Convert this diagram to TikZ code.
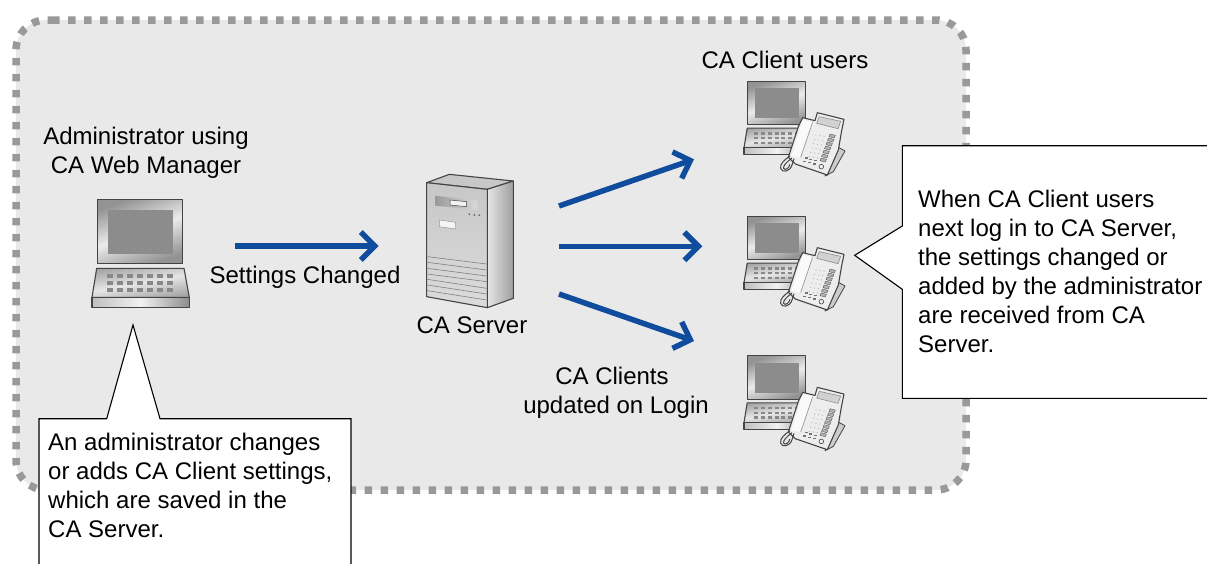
\documentclass[tikz,border=0pt]{standalone}
\usepackage{fontspec}
\setmainfont{Liberation Sans}
\usetikzlibrary{arrows.meta}
\definecolor{regionfill}{HTML}{E9E9E9}
\definecolor{dotgrey}{HTML}{999999}
\definecolor{flowblue}{HTML}{0F4C9E}
\definecolor{edgegrey}{HTML}{444444}
\definecolor{screengrey}{HTML}{8C8C8C}
\definecolor{keygrey}{HTML}{888888}
\tikzset{
  label text/.style={font=\fontsize{24}{29}\selectfont,inner sep=0pt,align=center,text=black},
  note text/.style={label text,align=left,anchor=north west},
  flow/.style={flowblue,line width=5.5pt,-{Straight Barb[length=14pt,width=28pt,line width=5.5pt]}},
  callout/.style={draw=black,line width=1.1pt,fill=white,line join=miter},
  kit/.style={draw=edgegrey,line width=1.1pt,line join=round},
  thinkit/.style={draw=edgegrey,line width=0.8pt,line join=round},
}
\newcommand{\drawlaptop}{%
  \shade[kit,left color=gray!85,right color=gray!85,middle color=white!92!black,shading angle=20] (5.7,0.3) rectangle (90.7,64.3);
  \fill[screengrey] (16,11) rectangle (81,54.7);
  \shade[kit,left color=gray!70,right color=gray!70,middle color=white!90!black,shading angle=10] (4.7,69.3) -- (92,69.3) -- (97.3,98.3) -- (0,98.3) -- cycle;
  \shade[kit,left color=white!75!black,right color=gray!90,middle color=white!95!black] (0,98.3) rectangle (97.3,108.3);
  \foreach \r in {0,1,2}{\foreach \c in {0,...,6}{
    \fill[keygrey] (15+\c*10,75.3+\r*7) rectangle ++(6,3.7);}}%
}
\newcommand{\drawphone}{%
  \filldraw[thinkit,fill=white!80!black] (325,232) -- (345,243) -- (310,305) -- (285,318) -- cycle;
  \filldraw[kit,fill=white!93!black] (262,128) -- (342,148) -- (335,182) -- (325,240) -- (292,315) -- (196,282) -- (175,262) -- (205,170) -- (218,143) -- (255,152) -- cycle;
  \filldraw[draw=white!55!black,line width=0.6pt,fill=white!82!black] (268,140) -- (332,154) -- (324,176) -- (260,160) -- cycle;
  \fill[white!98!black] (218,150) -- (248,156) -- (212,262) -- (184,258) -- cycle;
  \draw[white!55!black,line width=0.6pt] (248,156) -- (212,262);
  \foreach \r in {0,...,6}{\filldraw[draw=edgegrey,line width=0.3pt,fill=white!70!black] ({300-\r*4.5},{192+\r*12}) -- ++(16,4) -- ++(-3,8) -- ++(-16,-4) -- cycle;}
  \foreach \r in {0,...,5}{\foreach \c in {0,1,2}{\fill[white!72!black] ({258-\r*4+\c*12},{195+\r*13+\c*2}) circle (2);}}
  \foreach \c in {0,1,2}{\fill[white!45!black] ({224+\c*14},{262+\c*4}) rectangle ++(9,4); \fill[white!45!black] ({220+\c*14},{272+\c*4}) rectangle ++(9,4);}
  \draw[edgegrey,line width=0.6pt] (274,290) circle (7);
  \draw[edgegrey,line width=1pt] (180,258) .. controls (165,268) and (148,282) .. (152,295) .. controls (156,310) and (180,305) .. (186,285) .. controls (188,278) and (190,272) .. (192,266);
  \draw[edgegrey,line width=1pt] (186,264) .. controls (170,276) and (158,288) .. (161,295) .. controls (165,302) and (176,296) .. (180,283);
}
\newcommand{\drawclient}[1]{%
  \begin{scope}[shift={(744,#1)},scale=0.68]\drawlaptop\end{scope}
  \begin{scope}[shift={(730,#1-11)},scale=1/3]\drawphone\end{scope}
}
\begin{document}
\begin{tikzpicture}[x=1pt,y=-1pt]
\clip (0,0) rectangle (1207,563);
\fill[white] (0,0) rectangle (1207,563);
% dashed region
\fill[regionfill,rounded corners=30pt] (52,20) -- (966,20) -- (966,490) -- (16,490) -- (16,20) -- (52,20);
\draw[dotgrey,line width=7.5pt,dash pattern=on 7.5pt off 8.5pt,rounded corners=30pt] (52,20) -- (966,20) -- (966,490) -- (16,490) -- (16,20) -- (52,20);
% equipment
\begin{scope}[shift={(92,199)}]\drawlaptop\end{scope}
\drawclient{81}
\drawclient{216}
\drawclient{355.7}
% server, in 3x zoom units
\begin{scope}[shift={(400,160)},scale=1/3]
  \filldraw[kit,fill=white!78!black] (80,68) -- (148,43) -- (340,63) -- (262,88) -- cycle;
  \shade[kit,left color=white!90!black,right color=white!62!black] (262,88) -- (340,63) -- (340,415) -- (262,443) -- cycle;
  \shade[kit,top color=white!78!black,middle color=white!95!black,bottom color=white!86!black] (80,68) -- (262,88) -- (262,443) -- (80,410) -- cycle;
  \shade[left color=white!60!black,right color=white!85!black] (105,107) -- (232,122) -- (232,150) -- (105,137) -- cycle;
  \filldraw[draw=edgegrey,fill=white!95!black,line width=0.5pt] (150,120) -- (200,125) -- (200,140) -- (150,135) -- cycle;
  \filldraw[draw=white!60!black,fill=white!96!black,line width=0.5pt] (118,180) -- (167,187) -- (167,207) -- (118,200) -- cycle;
  \foreach \x/\y in {208/163,223/165,238/166}{\fill[white!40!black] (\x,\y) circle (3);}
  \foreach \l/\r in {290/312,307/330,325/348,342/365,358/385,375/402,392/420}{\draw[white!50!black,line width=0.6pt] (82,\l) -- (260,\r);}
\end{scope}
% arrow ends
\coordinate (a1s) at (235,246);
\coordinate (a1e) at (378.7,246);
\coordinate (a2s) at (559,206);
\coordinate (a2e) at (694,159.3);
\coordinate (a3s) at (559,246.3);
\coordinate (a3e) at (702.3,246.3);
\coordinate (a4s) at (559,294);
\coordinate (a4e) at (694,341);
\draw[flow] (a1s) -- (a1e);
\draw[flow] (a2s) -- (a2e);
\draw[flow] (a3s) -- (a3e);
\draw[flow] (a4s) -- (a4e);
% callouts
\filldraw[callout] (39,600) -- (39,418.7) -- (106.7,418.7) -- (133,325) -- (160,418.7) -- (351,418.7) -- (351,600);
\filldraw[callout] (1230,145.7) -- (902.3,145.7) -- (902.3,226) -- (854.7,255.3) -- (902.3,289.3) -- (902.3,398.3) -- (1230,398.3);
% labels
\node[label text] (admin) at (146,153) {Administrator using\\CA Web Manager};
\node[label text] (users) at (785,60) {CA Client users};
\node[label text] (changed) at (305,277) {Settings Changed};
\node[label text] (server) at (472,325) {CA Server};
\node[label text] (updated) at (616,393) {CA Clients\hspace*{8pt}\\updated on Login};
\node[note text] (noteleft) at (48,433) {An administrator changes\\or adds CA Client settings,\\which are saved in the\\CA Server.};
\node[note text] (noteright) at (918,190) {When CA Client users\\next log in to CA Server,\\the settings changed or\\added by the administrator\\are received from CA\\Server.};
\end{tikzpicture}
\end{document}
